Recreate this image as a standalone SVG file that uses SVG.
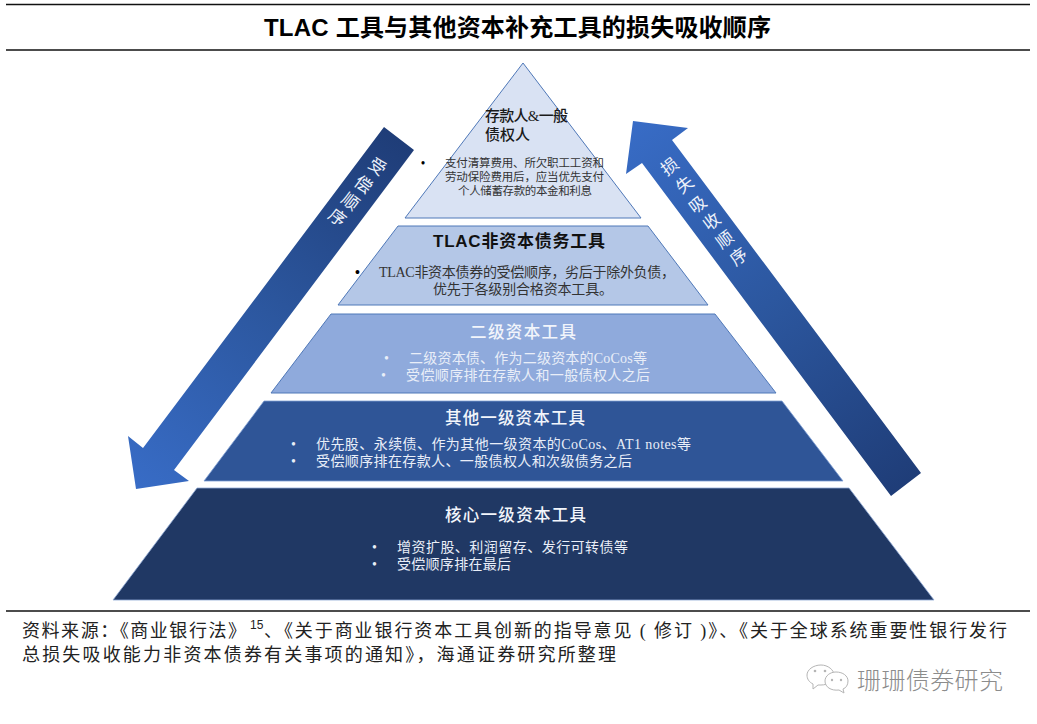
<svg xmlns="http://www.w3.org/2000/svg" width="1037" height="724" viewBox="0 0 1037 724">
<style>
text{font-family:"Liberation Serif","Noto Sans CJK SC",sans-serif;dominant-baseline:central}
.title{font-family:"Liberation Sans","Noto Sans CJK SC",sans-serif;font-size:24px;font-weight:700;fill:#000}
.rule{stroke:#111;stroke-width:1.5;fill:none}
.h{font-size:15px;fill:#1a1a1a;font-weight:500}
.hw{font-size:16.5px;fill:#f2f5fb;font-weight:500}
.hb{font-family:"Liberation Sans","Noto Sans CJK SC",sans-serif;font-size:17px;font-weight:700;fill:#111}
.b{font-size:11.5px;fill:#333}
.b2{font-size:14px;fill:#333}
.w{font-size:14px;fill:#e9eef8}
.dk{fill:#000;font-weight:700}
.arrowtxt{font-size:17px;fill:#eef2fa;text-anchor:middle}
.src{font-size:18px;fill:#222}
.wm{font-family:"Noto Sans CJK SC",sans-serif;font-size:24px;font-weight:300;fill:#8c8c8c}
.ic{fill:#fff;stroke:#b5b5b5;stroke-width:1}
</style>
<defs>
<linearGradient id="gl" gradientUnits="userSpaceOnUse" x1="399" y1="138" x2="136" y2="489"><stop offset="0" stop-color="#1f3d78"/><stop offset="0.5" stop-color="#2c579f"/><stop offset="1" stop-color="#386cc6"/></linearGradient>
<linearGradient id="gr" gradientUnits="userSpaceOnUse" x1="633" y1="121" x2="906" y2="484"><stop offset="0" stop-color="#386cc6"/><stop offset="0.5" stop-color="#2c579f"/><stop offset="1" stop-color="#1f3d78"/></linearGradient>
</defs>
<rect width="1037" height="724" fill="#fff"/>
<g id="header">
<line class="rule" x1="6" y1="4.5" x2="1030" y2="4.5"/>
<text class="title" x="264" y="27" textLength="507">TLAC 工具与其他资本补充工具的损失吸收顺序</text>
<line class="rule" x1="6" y1="50" x2="1030" y2="50"/>
</g>
<g id="connectors">
<g id="arrow-left">
<polygon fill="url(#gl)" points="384,127 414,150 174,470 189,481 136,489 128,436 143,448"/>
<text class="arrowtxt" transform="translate(377 167) rotate(37)">受</text>
<text class="arrowtxt" transform="translate(363 185) rotate(37)">偿</text>
<text class="arrowtxt" transform="translate(350 202) rotate(37)">顺</text>
<text class="arrowtxt" transform="translate(337 218) rotate(37)">序</text>
</g>
<g id="arrow-right">
<polygon fill="url(#gr)" points="633,121 688,128 672,140 921,473 891,496 642,163 626,174"/>
<text class="arrowtxt" transform="translate(670 167) rotate(-37)">损</text>
<text class="arrowtxt" transform="translate(685 185) rotate(-37)">失</text>
<text class="arrowtxt" transform="translate(698 205) rotate(-37)">吸</text>
<text class="arrowtxt" transform="translate(712 222) rotate(-37)">收</text>
<text class="arrowtxt" transform="translate(725 240) rotate(-37)">顺</text>
<text class="arrowtxt" transform="translate(739 257) rotate(-37)">序</text>
</g>
</g>
<g id="tier1">
<polygon points="523,63 641,218 405,218" fill="#d9e2f3" stroke="#4f78b8" stroke-width="1"/>
<text class="h" x="485" y="116" textLength="83">存款人&amp;一般</text>
<text class="h" x="485" y="135" textLength="45">债权人</text>
<text class="b dk" x="421" y="163">•</text>
<text class="b" x="445" y="163" textLength="159">支付清算费用、所欠职工工资和</text>
<text class="b" x="445" y="177" textLength="159">劳动保险费用后，应当优先支付</text>
<text class="b" x="458" y="191" textLength="134">个人储蓄存款的本金和利息</text>
</g>
<g id="tier2">
<polygon points="398,226 648,226 708,305 338,305" fill="#b4c7e7" stroke="#4f78b8" stroke-width="1"/>
<text class="hb" x="433" y="241" textLength="172">TLAC非资本债务工具</text>
<text class="b2 dk" x="355" y="272">•</text>
<text class="b2" x="379" y="272" textLength="296">TLAC非资本债券的受偿顺序，劣后于除外负债，</text>
<text class="b2" x="433" y="289" textLength="180">优先于各级别合格资本工具。</text>
</g>
<g id="tier3">
<polygon points="331,314 715,314 776,393 271,393" fill="#8faadc" stroke="#4f78b8" stroke-width="1"/>
<text class="hw" x="470" y="332" textLength="106">二级资本工具</text>
<text class="w" x="384" y="358">•</text>
<text class="w" x="409" y="358" textLength="238">二级资本债、作为二级资本的CoCos等</text>
<text class="w" x="381" y="375">•</text>
<text class="w" x="406" y="375" textLength="244">受偿顺序排在存款人和一般债权人之后</text>
</g>
<g id="tier4">
<polygon points="264,401 782,401 843,481 204,481" fill="#2f5597" stroke="#7f9fd4" stroke-width="0.8"/>
<text class="hw" x="445" y="418" textLength="140">其他一级资本工具</text>
<text class="w" x="291" y="444">•</text>
<text class="w" x="316" y="444" textLength="375">优先股、永续债、作为其他一级资本的CoCos、AT1 notes等</text>
<text class="w" x="291" y="461">•</text>
<text class="w" x="316" y="461" textLength="316">受偿顺序排在存款人、一般债权人和次级债务之后</text>
</g>
<g id="tier5">
<polygon points="197,488 849,488 934,600 113,600" fill="#203864" stroke="#8fa9d6" stroke-width="0.8"/>
<text class="hw" x="445" y="515" textLength="141">核心一级资本工具</text>
<text class="w" x="372" y="547">•</text>
<text class="w" x="397" y="547" textLength="231">增资扩股、利润留存、发行可转债等</text>
<text class="w" x="372" y="564">•</text>
<text class="w" x="397" y="564" textLength="114">受偿顺序排在最后</text>
</g>
<g id="footer">
<line class="rule" x1="6" y1="611" x2="1030" y2="611"/>
<text class="src" x="22" y="631" textLength="224">资料来源：《商业银行法》</text>
<text x="250" y="625" style="font-family:'Liberation Sans',sans-serif;font-size:12px;fill:#222">15</text>
<text class="src" x="264" y="631" textLength="743">、《关于商业银行资本工具创新的指导意见 ( 修订 )》、《关于全球系统重要性银行发行</text>
<text class="src" x="22" y="655" textLength="594">总损失吸收能力非资本债券有关事项的通知》，海通证券研究所整理</text>
</g>
<g id="watermark">
<path class="ic" d="M821,665c7,0 13,5 13,10c0,6 -6,10 -13,10l-3,0l-5,4l0,-5c-4,-2 -6,-5 -6,-9c0,-5 6,-10 14,-10z"/>
<path class="ic" d="M836,672c7,0 12,4 12,9c0,4 -2,7 -5,8l1,4l-5,-3c-8,1 -14,-3 -14,-9c0,-5 5,-9 11,-9z"/>
<circle cx="815" cy="671" r="1.3" fill="#b5b5b5"/><circle cx="825" cy="671" r="1.3" fill="#b5b5b5"/>
<circle cx="832" cy="680" r="1.2" fill="#b5b5b5"/><circle cx="841" cy="680" r="1.2" fill="#b5b5b5"/>
<text class="wm" x="857" y="678" textLength="146">珊珊债券研究</text>
</g>
</svg>
